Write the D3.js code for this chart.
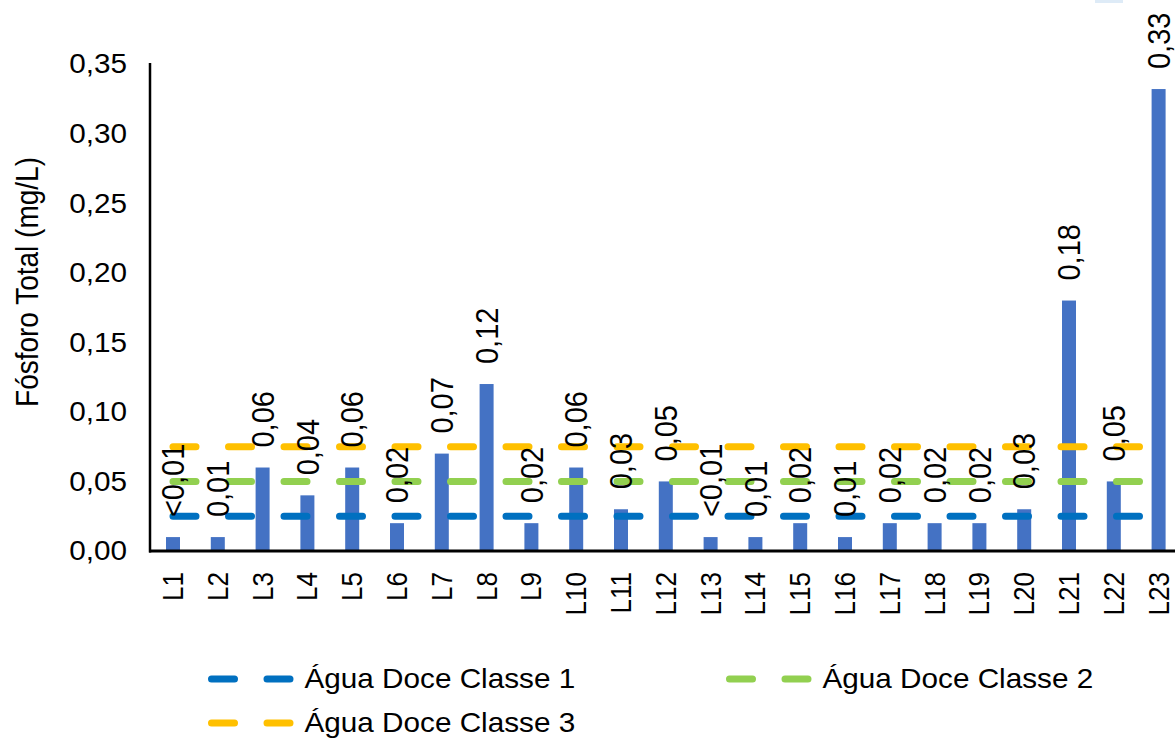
<!DOCTYPE html>
<html>
<head>
<meta charset="utf-8">
<script src="https://cdn.jsdelivr.net/npm/d3@7/dist/d3.min.js"></script>
<style>
  html, body { margin: 0; padding: 0; background: #ffffff; }
  svg { display: block; font-family: "Liberation Sans", Arial, sans-serif; }
</style>
</head>
<body>
<svg id="chart" width="1175" height="740"></svg>
<script>
// ---- data ----
const categories = ["L1","L2","L3","L4","L5","L6","L7","L8","L9","L10","L11","L12",
                    "L13","L14","L15","L16","L17","L18","L19","L20","L21","L22","L23"];
const values = [0.01,0.01,0.06,0.04,0.06,0.02,0.07,0.12,0.02,0.06,0.03,0.05,
                0.01,0.01,0.02,0.01,0.02,0.02,0.02,0.03,0.18,0.05,0.332];
const valueLabels = ["<0,01","0,01","0,06","0,04","0,06","0,02","0,07","0,12","0,02","0,06","0,03","0,05",
                     "<0,01","0,01","0,02","0,01","0,02","0,02","0,02","0,03","0,18","0,05","0,33"];
const classe1 = [0.025,0.025,0.025,0.025,0.025,0.025,0.025,0.025,0.025,0.025,0.025,0.025,
                 0.025,0.025,0.025,0.025,0.025,0.025,0.025,0.025,0.025,0.025,0.025];
const classe2 = [0.05,0.05,0.05,0.05,0.05,0.05,0.05,0.05,0.05,0.05,0.05,0.05,
                 0.05,0.05,0.05,0.05,0.05,0.05,0.05,0.05,0.05,0.05,0.05];
const classe3 = [0.075,0.075,0.075,0.075,0.075,0.075,0.075,0.075,0.075,0.075,0.075,0.075,
                 0.075,0.075,0.075,0.075,0.075,0.075,0.075,0.075,0.075,0.075,0.075];
const seriesNames = ["Água Doce Classe 1","Água Doce Classe 2","Água Doce Classe 3"];
const yTicks = [0,0.05,0.10,0.15,0.20,0.25,0.30,0.35];
const yTickLabels = ["0,00","0,05","0,10","0,15","0,20","0,25","0,30","0,35"];
const yTitle = "Fósforo Total (mg/L)";

// ---- styles ----
const barColor = "#4472C4";
const lineColors = ["#0070C0","#92D050","#FFC000"];
const SX = 1.1; // horizontal text stretch of the reference

const svg = d3.select("#chart");

const x = d3.scaleBand()
  .domain(categories)
  .range([150.6, 150.6 + 23 * 44.8])
  .paddingInner(0.6875)
  .paddingOuter(0.34375);
const y = d3.scaleLinear().domain([0, 0.35]).range([551, 64]);
const cx = d => x(d) + x.bandwidth() / 2;

// bars
svg.append("g").selectAll("rect")
  .data(categories)
  .join("rect")
  .attr("x", d => x(d))
  .attr("width", x.bandwidth())
  .attr("y", (d, i) => y(values[i]))
  .attr("height", (d, i) => y(0) - y(values[i]))
  .attr("fill", barColor);

// dashed limit lines
const lineGen = d3.line().x(d => cx(d.c)).y(d => y(d.v));
[classe1, classe2, classe3].forEach((arr, k) => {
  svg.append("path")
    .datum(categories.map((c, i) => ({c, v: arr[i]})))
    .attr("d", lineGen)
    .attr("fill", "none")
    .attr("stroke", lineColors[k])
    .attr("stroke-width", 7)
    .attr("stroke-linecap", "round")
    .attr("stroke-dasharray", "23,32.5");
});

// data labels (rotated)
svg.append("g").selectAll("text")
  .data(categories)
  .join("text")
  .attr("transform", (d, i) => `translate(${cx(d)},${y(values[i]) - 20}) scale(${SX},1) rotate(-90)`)
  .attr("dy", "0.35em")
  .attr("text-anchor", "start")
  .attr("font-size", 29)
  .attr("fill", "#000")
  .text((d, i) => valueLabels[i]);

// axes lines
svg.append("line")
  .attr("x1", 150).attr("x2", 150)
  .attr("y1", y(0.35) - 1).attr("y2", y(0) + 1.5)
  .attr("stroke", "#000").attr("stroke-width", 2.5);
svg.append("line")
  .attr("x1", 149).attr("x2", 1175)
  .attr("y1", y(0)).attr("y2", y(0))
  .attr("stroke", "#000").attr("stroke-width", 3);

// y tick labels
svg.append("g").selectAll("text")
  .data(yTicks)
  .join("text")
  .attr("transform", d => `translate(127,${y(d)}) scale(${SX},1)`)
  .attr("dy", "0.35em")
  .attr("text-anchor", "end")
  .attr("font-size", 27)
  .attr("fill", "#000")
  .text((d, i) => yTickLabels[i]);

// x tick labels (rotated)
svg.append("g").selectAll("text")
  .data(categories)
  .join("text")
  .attr("transform", d => `translate(${cx(d)},572) scale(${SX},1) rotate(-90)`)
  .attr("dy", "0.35em")
  .attr("text-anchor", "end")
  .attr("font-size", 26)
  .attr("fill", "#000")
  .text(d => d);

// y axis title
svg.append("text")
  .attr("transform", `translate(27,282) scale(${SX},1) rotate(-90)`)
  .attr("dy", "0.35em")
  .attr("text-anchor", "middle")
  .attr("font-size", 28)
  .attr("fill", "#000")
  .text(yTitle);

// legend
const legendPos = [[211.5, 679], [729.5, 679], [211.5, 723]];
seriesNames.forEach((name, k) => {
  const [lx, ly] = legendPos[k];
  const g = svg.append("g");
  g.append("line")
    .attr("x1", lx).attr("x2", lx + 79)
    .attr("y1", ly).attr("y2", ly)
    .attr("stroke", lineColors[k])
    .attr("stroke-width", 7)
    .attr("stroke-linecap", "round")
    .attr("stroke-dasharray", "23,32.5");
  g.append("text")
    .attr("transform", `translate(${lx + 93},${ly}) scale(${SX},1)`)
    .attr("dy", "0.35em")
    .attr("font-size", 27)
    .attr("fill", "#000")
    .text(name);
});

// small cropped element at the top right of the reference
svg.append("rect")
  .attr("x", 1095).attr("y", 0).attr("width", 28).attr("height", 3)
  .attr("fill", "#DEEBF7");
</script>
</body>
</html>
